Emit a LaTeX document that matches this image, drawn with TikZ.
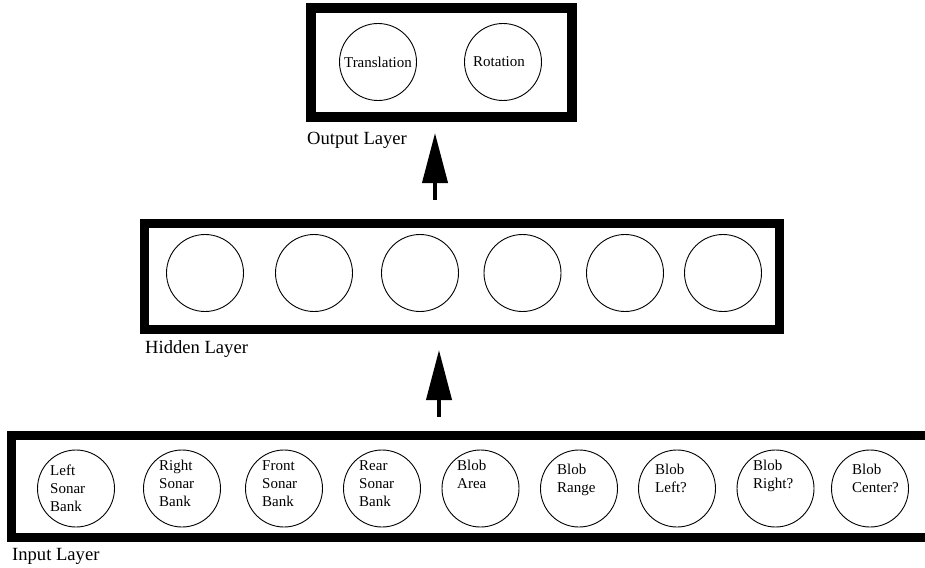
\documentclass[tikz,border=0pt]{standalone}
\usepackage{fontspec}
\setmainfont{Liberation Serif}
\usetikzlibrary{arrows.meta}
\begin{document}
\begin{tikzpicture}[x=1pt,y=-1pt,
  layerbox/.style={draw, rectangle, inner sep=0pt, outer sep=0pt},
  unit/.style={draw, circle, line width=0.9pt, minimum size=77pt, inner sep=0pt, font=\fontsize{15}{18}\selectfont},
  ulabel/.style={font=\fontsize{15}{18}\selectfont, align=left, anchor=base west, inner sep=0pt},
  layerlabel/.style={font=\fontsize{18.6}{22}\selectfont, anchor=base west, inner sep=0pt},
  flow/.style={line width=4pt, -{Triangle[width=25pt,length=50pt]}}]
\useasboundingbox (0,0) rectangle (925,567);
\clip (0,0) rectangle (925,567);

% layer boxes
\node[layerbox, line width=10pt, minimum width=260.5pt, minimum height=108.5pt] (outbox) at (441.25,62.75) {};
\node[layerbox, line width=9pt, minimum width=635.5pt, minimum height=106pt] (hidbox) at (461.75,276.5) {};
\node[layerbox, line width=9pt, minimum width=938.5pt, minimum height=102pt] (inbox) at (480.75,486.5) {};

% output units
\node[unit] (tr) at (378,62) {Translation};
\node[unit] (ro) at (503,62) {};
\node[ulabel, anchor=center] (rotl) at (499,62) {Rotation};

% hidden units
\node[unit] (h1) at (205,273) {};
\node[unit] (h2) at (314,273) {};
\node[unit] (h3) at (420,273) {};
\node[unit] (h4) at (522.5,273) {};
\node[unit] (h5) at (625,273) {};
\node[unit] (h6) at (723,273) {};

% input units
\node[unit] (i1) at (76,488.5) {};
\node[unit] (i2) at (182,488.5) {};
\node[unit] (i3) at (284,488.5) {};
\node[unit] (i4) at (382,488.5) {};
\node[unit] (i5) at (480.5,488.5) {};
\node[unit] (i6) at (579,488.5) {};
\node[unit] (i7) at (677,488.5) {};
\node[unit] (i8) at (775.5,488.5) {};
\node[unit] (i9) at (870,488.5) {};

% labels (anchored at baseline of last line)
\node[ulabel] (l1) at (50,511) {Left\\Sonar\\Bank};
\node[ulabel] (l2) at (159,506) {Right\\Sonar\\Bank};
\node[ulabel] (l3) at (262,506) {Front\\Sonar\\Bank};
\node[ulabel] (l4) at (359,506) {Rear\\Sonar\\Bank};
\node[ulabel] (l5) at (457,488) {Blob\\Area};
\node[ulabel] (l6) at (557,492) {Blob\\Range};
\node[ulabel] (l7) at (655,492) {Blob\\Left?};
\node[ulabel] (l8) at (753,488) {Blob\\Right?};
\node[ulabel] (l9) at (852,492) {Blob\\Center?};

% layer labels
\node[layerlabel] (outl) at (307,144) {Output Layer};
\node[layerlabel] (hidl) at (145,353) {Hidden Layer};
\node[layerlabel] (inl) at (12,560) {Input Layer};

% arrows
\coordinate (a1s) at (435,200);
\coordinate (a1e) at (435,133);
\coordinate (a2s) at (439,417);
\coordinate (a2e) at (439,350);
\draw[flow] (a1s) -- (a1e);
\draw[flow] (a2s) -- (a2e);
\end{tikzpicture}
\end{document}
